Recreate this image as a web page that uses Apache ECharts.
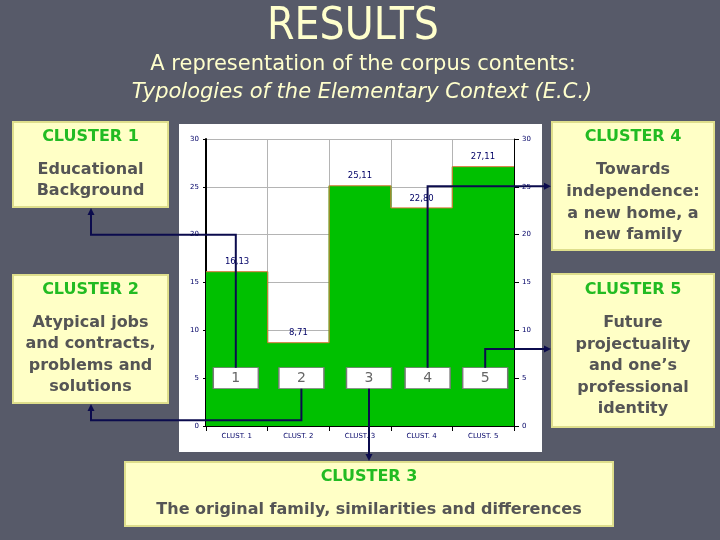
<!DOCTYPE html>
<html><head><meta charset="utf-8">
<script src="https://cdn.jsdelivr.net/npm/echarts@6/dist/echarts.min.js"></script>
<style>html,body{margin:0;padding:0;background:#575a69;}#c{width:720px;height:540px;}</style>
</head><body><div id="c"></div>
<script>
// ---- data ----
const categories = ['CLUST. 1', 'CLUST. 2', 'CLUST. 3', 'CLUST. 4', 'CLUST. 5'];
const values = [16.13, 8.71, 25.11, 22.80, 27.11];
const boxNumbers = ['1', '2', '3', '4', '5'];
const boxLevel = 5;
const yTickValues = [0, 5, 10, 15, 20, 25, 30];
const clusterTitles = ['CLUSTER 1', 'CLUSTER 2', 'CLUSTER 3', 'CLUSTER 4', 'CLUSTER 5'];
const clusterTexts = [
  'Educational\nBackground',
  'Atypical jobs\nand contracts,\nproblems and\nsolutions',
  'The original family, similarities and differences',
  'Towards\nindependence:\na new home, a\nnew family',
  'Future\nprojectuality\nand one\u2019s\nprofessional\nidentity'
];
const headerTitle = 'RESULTS';
const headerSub = 'A representation of the corpus contents:';
const headerItalic = 'Typologies of the Elementary Context (E.C.)';

// ---- layout / style ----
const BG = '#575a69';
const NAVY = '#000066';
const LINE = '#0b0b4d';
const TFONT = '"DejaVu Sans Condensed", "DejaVu Sans", sans-serif';
const BFONT = '"DejaVu Sans", Verdana, sans-serif';
const boxShift = [-1, 3, 9, 6, 2];
const yMax = yTickValues[yTickValues.length - 1];
const yStep = yTickValues[1] - yTickValues[0];

const chart = echarts.init(document.getElementById('c'));
const fmt = v => v.toFixed(2).replace('.', ',');
const outline = values.map((v, i) => [i, v]).concat([[values.length, values[values.length - 1]]]);

chart.setOption({
  backgroundColor: BG,
  animation: false,
  grid: { left: 206, right: 206, top: 139, bottom: 114 },
  xAxis: [
    {
      type: 'category', data: categories,
      axisLine: { lineStyle: { color: '#000', width: 1 } },
      axisTick: { show: true, length: 5, lineStyle: { color: '#000' } },
      axisLabel: { color: NAVY, fontSize: 7, fontFamily: BFONT, margin: 7 },
      splitLine: { show: true, lineStyle: { color: '#b4b4b4', width: 1 } }
    },
    { type: 'value', min: 0, max: categories.length, show: false }
  ],
  yAxis: [
    {
      type: 'value', min: 0, max: yMax, interval: yStep, position: 'left',
      axisLine: { show: true, lineStyle: { color: '#000', width: 2 } },
      axisTick: { show: true, length: 3, lineStyle: { color: '#000' } },
      axisLabel: { color: NAVY, fontSize: 7, fontFamily: BFONT, margin: 7 },
      splitLine: { show: true, lineStyle: { color: '#b4b4b4', width: 1 } }
    },
    {
      type: 'value', min: 0, max: yMax, interval: yStep, position: 'right',
      axisLine: { show: true, lineStyle: { color: '#000', width: 1 } },
      axisTick: { show: true, length: 5, lineStyle: { color: '#000' } },
      axisLabel: { color: NAVY, fontSize: 7, fontFamily: BFONT, margin: 8 },
      splitLine: { show: false }
    }
  ],
  series: [
    {
      type: 'bar', data: values, barWidth: '102%', z: 2,
      itemStyle: { color: '#00c000', borderWidth: 0 },
      label: {
        show: true, position: 'top', distance: 5,
        formatter: p => fmt(p.value),
        color: NAVY, fontSize: 8.5, fontFamily: BFONT
      }
    },
    {
      type: 'line', xAxisIndex: 1, yAxisIndex: 0, data: outline, step: 'end', z: 3,
      symbol: 'none', silent: true,
      lineStyle: { color: '#d9783a', width: 1 }
    },
    {
      type: 'scatter', z: 5,
      data: categories.map((c, i) => ({ value: [i, boxLevel], symbolOffset: [boxShift[i], 0] })),
      symbol: 'rect', symbolSize: [45, 21],
      itemStyle: { color: '#ffffff', borderColor: '#7a7a7a', borderWidth: 1, opacity: 1 },
      label: {
        show: true, position: 'inside', offset: [0, 0],
        formatter: p => boxNumbers[p.dataIndex],
        color: '#666666', fontSize: 14, fontFamily: BFONT
      }
    }
  ]
});

// ---- annotations (boxes, connectors) ----
function pt(i, v) { const p = chart.convertToPixel({ gridIndex: 0 }, [i, v]); return [p[0] + boxShift[i], p[1]]; }
const els = [];
els.push({ type: 'rect', z: -10, silent: true, shape: { x: 179, y: 124, width: 363, height: 328 }, style: { fill: '#ffffff' } });

els.push({ type: 'text', z: 10, style: { text: headerTitle, x: 353, y: 28, align: 'center', verticalAlign: 'middle', fill: '#ffffcc', font: '44px ' + TFONT } });
els.push({ type: 'text', z: 10, style: { text: headerSub, x: 363, y: 65, align: 'center', verticalAlign: 'middle', fill: '#ffffcc', font: '21px ' + BFONT } });
els.push({ type: 'text', z: 10, style: { text: headerItalic, x: 362, y: 93, align: 'center', verticalAlign: 'middle', fill: '#ffffcc', font: 'italic 21px ' + BFONT } });

// cluster boxes: [x, y, w, h, titleCenterY, bodyFirstCenterY, lineHeight]
const boxLayout = [
  [13, 122, 155, 85, 137, 170, 21],
  [13, 275, 155, 128, 290, 323, 21.3],
  [125, 462, 488, 64, 477, 510, 21],
  [552, 122, 162, 128, 137, 170, 21.7],
  [552, 274, 162, 153, 290, 323, 21.5]
];
boxLayout.forEach((b, i) => {
  const [x, y, w, h, ty, by, lh] = b;
  const cx = x + w / 2;
  els.push({ type: 'rect', z: 10, shape: { x: x, y: y, width: w, height: h }, style: { fill: '#ffffc6', stroke: '#dede8c', lineWidth: 2 } });
  els.push({ type: 'text', z: 11, style: { text: clusterTitles[i], x: cx, y: ty, align: 'center', verticalAlign: 'middle', fill: '#22bb22', font: 'bold 16px ' + BFONT } });
  els.push({ type: 'text', z: 11, style: { text: clusterTexts[i], x: cx, y: by - lh / 2, align: 'center', verticalAlign: 'top', lineHeight: lh, fill: '#555555', font: 'bold 16px ' + BFONT } });
});

const half = 10.5;
const c = categories.map((_, i) => pt(i, boxLevel));
const yAt = v => chart.convertToPixel({ gridIndex: 0 }, [0, v])[1];
function poly(points) { els.push({ type: 'polyline', z: 20, silent: true, shape: { points: points }, style: { stroke: LINE, lineWidth: 2, fill: null } }); }
function arrow(x, y, dir) {
  let p;
  if (dir === 'up') p = [[x, y], [x - 3.5, y + 7], [x + 3.5, y + 7]];
  else if (dir === 'down') p = [[x, y], [x - 3.5, y - 7], [x + 3.5, y - 7]];
  else p = [[x, y], [x - 7, y - 3.5], [x - 7, y + 3.5]];
  els.push({ type: 'polygon', z: 21, silent: true, shape: { points: p }, style: { fill: LINE } });
}
const leftX = 91;
const rightX = 551;
let y1 = yAt(20);
poly([[c[0][0], c[0][1] - half], [c[0][0], y1], [leftX, y1], [leftX, 210]]);
arrow(leftX, 208, 'up');
let y2 = yAt(0.6);
poly([[c[1][0], c[1][1] + half], [c[1][0], y2], [leftX, y2], [leftX, 406]]);
arrow(leftX, 404, 'up');
poly([[c[2][0], c[2][1] + half], [c[2][0], 458]]);
arrow(c[2][0], 461, 'down');
let y4 = yAt(25.05);
poly([[c[3][0], c[3][1] - half], [c[3][0], y4], [rightX - 3, y4]]);
arrow(rightX, y4, 'right');
let y5 = yAt(8.05);
poly([[c[4][0], c[4][1] - half], [c[4][0], y5], [rightX - 3, y5]]);
arrow(rightX, y5, 'right');

chart.setOption({ graphic: { elements: els } });
</script>
</body></html>
